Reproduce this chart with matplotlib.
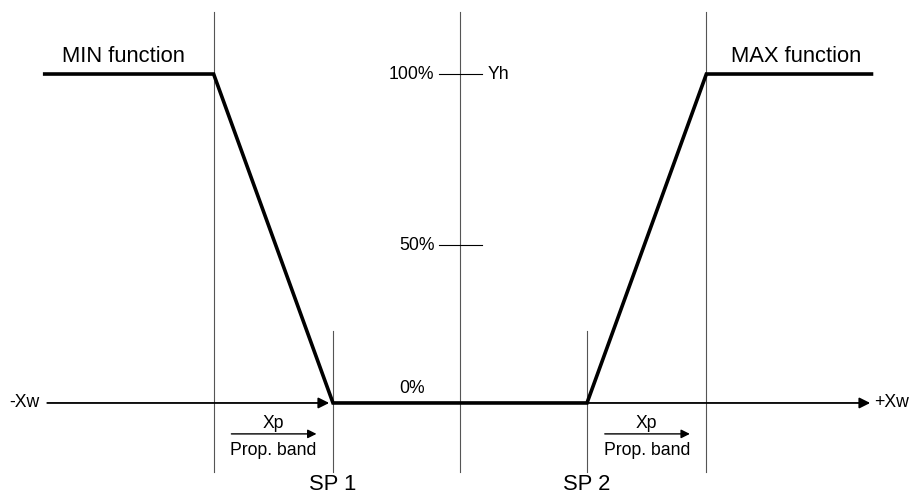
import matplotlib
matplotlib.use("Agg")
from matplotlib import pyplot as plt

plt.rcParams['font.family'] = ['Liberation Sans', 'DejaVu Sans']

# diagram values (x in setpoint units, y in % output)
setpoints = [-1.0, 1.0]
sp_labels = ["SP 1", "SP 2"]
xp = 0.94                      # proportional band width
x_ends = [-3.27, 3.24]         # where the MIN / MAX plateaus start / end
levels = [0, 48, 100]          # tick heights as drawn in the picture
level_labels = ["0%", "50%", "100%"]
func_labels = ["MIN function", "MAX function"]

sp1, sp2 = setpoints
curve_x = [x_ends[0], sp1 - xp, sp1, sp2, sp2 + xp, x_ends[1]]
curve_y = [100, 100, 0, 0, 100, 100]

fig = plt.figure(figsize=(9.16, 5.01), dpi=100)
ax = fig.add_axes([0, 0, 1, 1])
ax.set_xlim(-460 / 127, 456 / 127)
ax.set_ylim(-29.8, 122.5)
ax.axis("off")

big = 15.8
small = 12.7
grey = "#555555"

# vertical guide lines
for x in [sp1 - xp, 0, sp2 + xp]:
    ax.plot([x, x], [-21, 118.8], color=grey, lw=0.8)
for x in setpoints:
    ax.plot([x, x], [-21, 22], color=grey, lw=0.8)

# x axis arrows
arr = dict(arrowstyle="-|>", lw=1.3, color="black", mutation_scale=16, shrinkA=0, shrinkB=0)
ax.annotate("", xy=(sp1 - 0.03, 0), xytext=(-3.25, 0), arrowprops=arr)
ax.annotate("", xy=(3.23, 0), xytext=(sp2, 0), arrowprops=arr)
ax.text(-3.25 - 0.06, 0, "-Xw", ha="right", va="center", fontsize=small)
ax.text(3.23 + 0.03, 0, "+Xw", ha="left", va="center", fontsize=small)

# output curve
ax.plot(curve_x, curve_y, color="black", lw=2.6, solid_joinstyle="miter")

# level ticks on the centre line
for lv, lab in zip(levels[1:], level_labels[1:]):
    ax.plot([-0.165, 0.173], [lv, lv], color="black", lw=0.8)
    ax.text(-0.2, lv, lab, ha="right", va="center", fontsize=small)
ax.text(0.22, levels[2], "Yh", ha="left", va="center", fontsize=small)
ax.text(-0.38, 1.8, level_labels[0], ha="center", va="bottom", fontsize=small)

# proportional band annotations
for band_mid in [sp1 - xp / 2, sp2 + xp / 2]:
    ax.text(band_mid, -6.1, "Xp", ha="center", va="center", fontsize=small)
    ax.annotate("", xy=(band_mid + 0.34, -9.4), xytext=(band_mid - 0.33, -9.4),
                arrowprops=dict(arrowstyle="-|>", lw=1.0, color="black",
                                mutation_scale=13, shrinkA=0, shrinkB=0))
    ax.text(band_mid, -14.3, "Prop. band", ha="center", va="center", fontsize=small)

for x, lab in zip(setpoints, sp_labels):
    ax.text(x, -24.9, lab, ha="center", va="center", fontsize=big)

ax.text(-2.65, 105.2, func_labels[0], ha="center", va="center", fontsize=big)
ax.text(2.65, 105.2, func_labels[1], ha="center", va="center", fontsize=big)

fig.savefig("out.png", dpi=100)
